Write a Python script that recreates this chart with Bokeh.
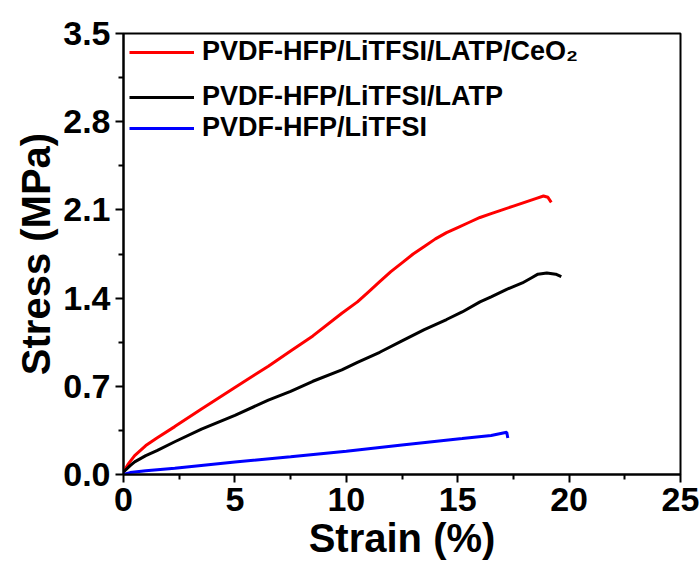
from bokeh.plotting import figure
from bokeh.models import Range1d, FixedTicker, PrintfTickFormatter, Legend, LegendItem
from bokeh.embed import file_html
from bokeh.resources import INLINE

# ---- data ----
strain_red = [0.0, 0.2, 0.5, 1.0, 1.5, 2.3, 3.5, 5.0, 6.5, 7.5, 8.5, 9.8, 10.5, 11.0, 11.5,
              12.0, 12.5, 13.0, 13.5, 14.0, 14.5, 15.0, 15.5, 16.0, 16.5, 17.0, 17.5, 18.0,
              18.5, 18.85, 19.05, 19.2]
stress_red = [0.02, 0.08, 0.15, 0.23, 0.29, 0.38, 0.52, 0.69, 0.86, 0.98, 1.10, 1.28, 1.37, 1.45, 1.53,
              1.61, 1.68, 1.75, 1.81, 1.87, 1.92, 1.96, 2.00, 2.04, 2.07, 2.10, 2.13, 2.16,
              2.19, 2.21, 2.20, 2.16]

strain_black = [0.0, 0.3, 0.5, 1.0, 1.5, 2.3, 3.5, 5.0, 6.5, 7.5, 8.5, 9.8, 10.5, 11.5, 12.5,
                13.5, 14.5, 15.2, 16.0, 16.5, 17.2, 17.9, 18.3, 18.6, 19.0, 19.4, 19.65]
stress_black = [0.02, 0.07, 0.10, 0.15, 0.19, 0.26, 0.36, 0.47, 0.59, 0.66, 0.74, 0.83, 0.89, 0.97, 1.06,
                1.15, 1.23, 1.29, 1.37, 1.41, 1.47, 1.52, 1.56, 1.59, 1.60, 1.59, 1.57]

strain_blue = [0.0, 0.3, 1.0, 2.3, 5.0, 7.5, 10.0, 12.5, 15.2, 16.5, 17.2, 17.25]
stress_blue = [0.0, 0.015, 0.03, 0.05, 0.10, 0.14, 0.185, 0.235, 0.285, 0.31, 0.335, 0.29]

labels = ["PVDF-HFP/LiTFSI/LATP/CeO\u2082", "PVDF-HFP/LiTFSI/LATP", "PVDF-HFP/LiTFSI"]
x_ticks = [0, 5, 10, 15, 20, 25]
x_minor = [2.5, 7.5, 12.5, 17.5, 22.5]
y_ticks = [0.0, 0.7, 1.4, 2.1, 2.8, 3.5]
y_minor = [0.35, 1.05, 1.75, 2.45, 3.15]

FONT = "Liberation Sans"

p = figure(width=700, height=562, output_backend="svg", toolbar_location=None,
           x_range=Range1d(0, 25), y_range=Range1d(0, 3.5),
           min_border_left=123, min_border_right=20, min_border_top=33, min_border_bottom=85)
p.grid.visible = False
p.outline_line_color = "black"
p.outline_line_width = 2
p.background_fill_color = "white"
p.border_fill_color = "white"

r_red = p.line(strain_red, stress_red, line_color="#ff0000", line_width=3)
r_black = p.line(strain_black, stress_black, line_color="black", line_width=3)
r_blue = p.line(strain_blue, stress_blue, line_color="#0000ff", line_width=3)

p.xaxis.ticker = FixedTicker(ticks=x_ticks, minor_ticks=x_minor)
p.yaxis.ticker = FixedTicker(ticks=y_ticks, minor_ticks=y_minor)
p.yaxis.formatter = PrintfTickFormatter(format="%.1f")
p.xaxis.axis_label = "Strain (%)"
p.yaxis.axis_label = "Stress (MPa)"

for ax in (p.xaxis[0], p.yaxis[0]):
    ax.axis_line_width = 2
    ax.major_tick_line_width = 2
    ax.minor_tick_line_width = 2
    ax.major_tick_in = 0
    ax.major_tick_out = 8
    ax.minor_tick_in = 0
    ax.minor_tick_out = 5
    ax.major_label_text_font = FONT
    ax.major_label_text_font_style = "bold"
    ax.major_label_text_font_size = "34px"
    ax.major_label_text_color = "black"
    ax.axis_label_text_font = FONT
    ax.axis_label_text_font_style = "bold"
    ax.axis_label_text_font_size = "40px"
    ax.axis_label_text_color = "black"
    ax.major_label_standoff = 5
    ax.axis_label_standoff = 2

legend_rows = [(labels[0], r_red, 407), (labels[1], r_black, 362), (labels[2], r_blue, 331)]
for lab, rend, ypos in legend_rows:
    leg = Legend(items=[LegendItem(label=lab, renderers=[rend])], location=(6, ypos),
                 border_line_color=None, background_fill_alpha=0, padding=0, margin=0,
                 glyph_width=65, glyph_height=30, label_height=30, label_standoff=8,
                 label_text_font=FONT, label_text_font_style="bold",
                 label_text_font_size="27px", label_text_color="black")
    p.add_layout(leg)

open("out.html", "w").write(file_html(p, INLINE))
